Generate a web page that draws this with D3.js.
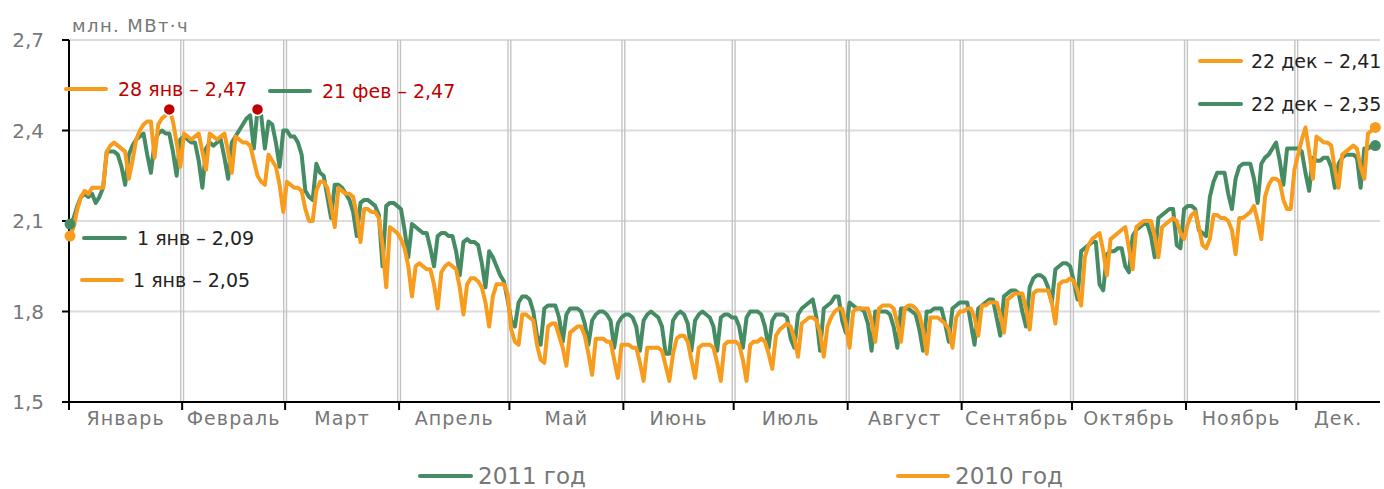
<!DOCTYPE html>
<html><head><meta charset="utf-8">
<script src="https://cdn.jsdelivr.net/npm/d3@7"></script>
<style>body{margin:0;background:#fff} svg{display:block} text{font-family:"DejaVu Sans",Verdana,sans-serif}</style>
</head><body><svg id="c" width="1384" height="489"></svg>
<script>
const monthLabels = ["Январь","Февраль","Март","Апрель","Май","Июнь","Июль","Август","Сентябрь","Октябрь","Ноябрь","Дек."];
const monthLengths = [31,28,31,30,31,30,31,31,30,31,30,22];
const yTicks = [1.5,1.8,2.1,2.4,2.7];
const seriesNames = ["2011 год","2010 год"];
const unitLabel = "млн. МВт·ч";
const peakLabels = ["28 янв – 2,47","21 фев – 2,47"];
const startLabels = ["1 янв – 2,09","1 янв – 2,05"];
const endLabels = ["22 дек – 2,41","22 дек – 2,35"];

// daily values, Jan 1 .. Dec 22
const values2011 = [
2.09,2.11,2.15,2.18,2.19,2.18,2.19, 2.16,2.18,2.21,2.33,2.33,2.33,2.32,
2.28,2.22,2.32,2.35,2.37,2.38,2.39, 2.32,2.26,2.36,2.39,2.40,2.39,2.39,
2.33,2.25,2.37,2.38,2.37,2.36,2.36, 2.30,2.21,2.34,2.36,2.35,2.36,2.37,
2.31,2.24,2.36,2.38,2.40,2.42,2.44, 2.45,2.34,2.47,2.45,2.34,2.43,2.42,
2.36,2.28,2.40,2.40,2.38,2.38,2.36, 2.32,2.20,2.18,2.17,2.29,2.26,2.25,
2.18,2.11,2.22,2.22,2.21,2.19,2.17, 2.13,2.05,2.16,2.17,2.17,2.16,2.15,
2.12,1.95,2.15,2.16,2.16,2.15,2.14, 2.07,1.98,2.09,2.08,2.07,2.06,2.06,
2.01,1.95,2.05,2.06,2.06,2.05,2.05, 2.00,1.92,2.03,2.04,2.03,2.03,2.02,
1.96,1.88,2.00,1.98,1.95,1.92,1.90, 1.84,1.77,1.75,1.83,1.85,1.85,1.84,
1.80,1.72,1.69,1.81,1.82,1.82,1.82, 1.78,1.70,1.79,1.81,1.81,1.81,1.80,
1.76,1.69,1.77,1.79,1.80,1.80,1.79, 1.77,1.68,1.76,1.78,1.79,1.79,1.78,
1.75,1.67,1.77,1.79,1.80,1.79,1.78, 1.75,1.66,1.66,1.77,1.79,1.80,1.79,
1.76,1.67,1.77,1.79,1.80,1.79,1.78, 1.75,1.67,1.78,1.79,1.79,1.78,1.78,
1.75,1.68,1.78,1.80,1.80,1.80,1.79, 1.75,1.68,1.77,1.79,1.79,1.79,1.78,
1.71,1.68,1.79,1.81,1.82,1.83,1.84, 1.78,1.67,1.81,1.82,1.83,1.85,1.85,
1.77,1.73,1.83,1.82,1.81,1.81,1.80, 1.76,1.67,1.80,1.80,1.80,1.80,1.79,
1.75,1.68,1.81,1.81,1.81,1.80,1.79, 1.74,1.67,1.80,1.80,1.81,1.81,1.81,
1.76,1.70,1.81,1.82,1.83,1.83,1.83, 1.76,1.69,1.81,1.82,1.83,1.84,1.84,
1.78,1.72,1.85,1.86,1.87,1.87,1.86, 1.80,1.75,1.88,1.91,1.92,1.92,1.91,
1.88,1.83,1.94,1.95,1.96,1.96,1.95, 1.90,1.84,2.00,2.01,2.02,2.03,2.03,
1.89,1.87,1.99,2.00,2.00,2.01,2.01, 1.95,1.93,2.05,2.07,2.08,2.09,2.09,
2.05,1.98,2.11,2.12,2.13,2.14,2.14, 2.02,2.01,2.14,2.15,2.15,2.14,2.07,
2.06,2.05,2.18,2.23,2.26,2.26,2.26, 2.19,2.14,2.24,2.28,2.29,2.29,2.29,
2.24,2.16,2.29,2.31,2.32,2.34,2.36, 2.30,2.22,2.34,2.34,2.34,2.34,2.33,
2.26,2.20,2.31,2.30,2.30,2.31,2.31, 2.28,2.21,2.29,2.31,2.32,2.32,2.32,
2.31,2.21,2.34,2.34,2.35,2.35
];
const values2010 = [
2.05,2.08,2.14,2.18,2.20,2.19,2.21, 2.21,2.21,2.21,2.33,2.35,2.36,2.35,
2.34,2.33,2.24,2.30,2.37,2.40,2.42, 2.43,2.43,2.31,2.42,2.44,2.45,2.47,
2.43,2.36,2.28,2.39,2.38,2.37,2.38, 2.39,2.33,2.27,2.39,2.38,2.37,2.38,
2.39,2.33,2.26,2.38,2.37,2.36,2.36, 2.35,2.30,2.25,2.23,2.22,2.32,2.30,
2.28,2.22,2.13,2.23,2.22,2.21,2.21, 2.20,2.14,2.10,2.10,2.20,2.23,2.23,
2.21,2.15,2.08,2.21,2.20,2.19,2.19, 2.18,2.12,2.03,2.14,2.14,2.13,2.13,
2.11,2.02,1.88,2.08,2.07,2.06,2.04, 2.01,1.95,1.85,1.95,1.96,1.95,1.94,
1.94,1.89,1.81,1.93,1.95,1.96,1.95, 1.94,1.88,1.79,1.89,1.91,1.91,1.90,
1.88,1.83,1.75,1.85,1.89,1.89,1.89, 1.86,1.74,1.70,1.69,1.79,1.79,1.78,
1.77,1.69,1.64,1.63,1.75,1.76,1.76, 1.72,1.68,1.62,1.73,1.74,1.75,1.75,
1.72,1.66,1.59,1.71,1.71,1.71,1.70, 1.70,1.64,1.58,1.69,1.69,1.69,1.68,
1.68,1.63,1.57,1.68,1.68,1.68,1.68, 1.67,1.62,1.57,1.66,1.71,1.72,1.72,
1.70,1.64,1.58,1.68,1.69,1.69,1.69, 1.68,1.63,1.57,1.69,1.70,1.70,1.70,
1.69,1.64,1.57,1.69,1.70,1.70,1.71, 1.70,1.66,1.61,1.72,1.74,1.75,1.76,
1.75,1.71,1.65,1.76,1.77,1.78,1.78, 1.77,1.73,1.65,1.75,1.78,1.80,1.81,
1.81,1.76,1.68,1.80,1.81,1.81,1.81, 1.81,1.77,1.70,1.81,1.82,1.82,1.82,
1.81,1.76,1.70,1.81,1.82,1.82,1.81, 1.79,1.74,1.66,1.78,1.78,1.78,1.77,
1.76,1.74,1.68,1.78,1.80,1.80,1.81, 1.81,1.78,1.72,1.82,1.82,1.83,1.83,
1.83,1.79,1.73,1.84,1.85,1.86,1.86, 1.86,1.81,1.74,1.86,1.87,1.87,1.87,
1.87,1.83,1.76,1.89,1.90,1.90,1.91, 1.90,1.87,1.82,1.98,2.02,2.04,2.05,
2.06,2.00,1.92,2.04,2.05,2.06,2.07, 2.08,2.01,1.94,2.08,2.09,2.10,2.10,
2.10,2.05,1.98,2.08,2.09,2.10,2.11, 2.10,2.06,2.04,2.09,2.12,2.13,2.08,
2.02,2.01,2.04,2.12,2.12,2.11,2.11, 2.10,2.07,1.99,2.11,2.11,2.12,2.13,
2.15,2.10,2.04,2.18,2.22,2.24,2.24, 2.23,2.17,2.14,2.14,2.27,2.32,2.37,
2.41,2.33,2.24,2.38,2.37,2.36,2.36, 2.35,2.27,2.21,2.32,2.33,2.34,2.35,
2.34,2.28,2.24,2.39,2.40,2.41
];

const GREEN = "#458b63", ORANGE = "#f89c1e", RED = "#c00000", GREY = "#777777";
const svg = d3.select("#c");
const x = d3.scaleLinear().domain([0, 356]).range([70, 1379]);
const y = d3.scaleLinear().domain([1.5, 2.7]).range([402, 40]);
const xLeft = 69, xRight = 1380;

// month boundaries
const monthStarts = [];
let acc = 0;
monthLengths.forEach(l => { monthStarts.push(acc); acc += l; });
const bounds = monthStarts.map(s => x(s - 0.5));
bounds[0] = xLeft;

// horizontal grid
svg.append("g").selectAll("line").data(yTicks.filter(t => t > 1.5)).join("line")
  .attr("x1", xLeft).attr("x2", xRight).attr("y1", d => y(d)).attr("y2", d => y(d))
  .attr("stroke", "#dcdcdc").attr("stroke-width", 2);

// vertical double grid lines
const vg = svg.append("g");
bounds.slice(1).forEach(b => {
  [-1.4, 1.4].forEach(o => {
    vg.append("line").attr("x1", b + o).attr("x2", b + o).attr("y1", y(2.7)).attr("y2", y(1.5))
      .attr("stroke", "#c4c4c4").attr("stroke-width", 1.4);
  });
});

// unit label
svg.append("text").attr("x", 72).attr("y", 32).attr("font-size", 18).attr("letter-spacing", 1.4)
  .attr("fill", GREY).text(unitLabel);

// y axis
const ya = svg.append("g");
ya.append("line").attr("x1", xLeft).attr("x2", xLeft).attr("y1", y(2.7)).attr("y2", y(1.5)).attr("stroke", "#000").attr("stroke-width", 2);
ya.selectAll(".t").data(yTicks).join("line").attr("x1", 62).attr("x2", xLeft)
  .attr("y1", d => y(d)).attr("y2", d => y(d)).attr("stroke", "#000").attr("stroke-width", 2);
ya.selectAll("text").data(yTicks).join("text").attr("x", 44).attr("y", d => y(d))
  .attr("text-anchor", "end").attr("dominant-baseline", "central").attr("font-size", 20).attr("fill", GREY)
  .text(d => d3.format(".1f")(d).replace(".", ","));

// x axis
const xa = svg.append("g");
xa.append("line").attr("x1", 62).attr("x2", xRight).attr("y1", y(1.5)).attr("y2", y(1.5)).attr("stroke", "#000").attr("stroke-width", 2);
xa.selectAll(".t").data(bounds).join("line").attr("x1", d => d).attr("x2", d => d)
  .attr("y1", y(1.5)).attr("y2", y(1.5) + 8).attr("stroke", "#000").attr("stroke-width", 2);
xa.selectAll("text").data(monthLabels).join("text")
  .attr("x", (d, i) => ((bounds[i] + (i < 11 ? bounds[i + 1] : xRight)) / 2))
  .attr("y", 425).attr("text-anchor", "middle").attr("font-size", 19).attr("letter-spacing", 1.1)
  .attr("fill", GREY).text(d => d);

// lines
const line = d3.line().x((d, i) => x(i)).y(d => y(d));
svg.append("path").datum(values2011).attr("d", line).attr("fill", "none").attr("stroke", GREEN)
  .attr("stroke-width", 4).attr("stroke-linejoin", "round");
svg.append("path").datum(values2010).attr("d", line).attr("fill", "none").attr("stroke", ORANGE)
  .attr("stroke-width", 4).attr("stroke-linejoin", "round");

// dots
const last = values2011.length - 1;
const dots = [
  [0, values2011[0], GREEN], [0, values2010[0], ORANGE],
  [last, values2011[last], GREEN], [last, values2010[last], ORANGE]
];
dots.forEach(([i, v, c]) => svg.append("circle").attr("cx", x(i)).attr("cy", y(v)).attr("r", 5.5).attr("fill", c));
const pk2010 = values2010.indexOf(d3.max(values2010));
const pk2011 = values2011.indexOf(d3.max(values2011));
[[pk2010, values2010[pk2010]], [pk2011, values2011[pk2011]]].forEach(([i, v]) =>
  svg.append("circle").attr("cx", x(i)).attr("cy", y(v)).attr("r", 6).attr("fill", RED).attr("stroke", "#fff").attr("stroke-width", 1.5));

// annotations with line swatches
function note(x1, x2, yy, color, tx, text, tcolor, fs) {
  svg.append("line").attr("x1", x1).attr("x2", x2).attr("y1", yy).attr("y2", yy)
    .attr("stroke", color).attr("stroke-width", 4).attr("stroke-linecap", "round");
  svg.append("text").attr("x", tx).attr("y", yy).attr("dominant-baseline", "central")
    .attr("font-size", fs).attr("fill", tcolor).text(text);
}
note(66, 106, 89, ORANGE, 118, peakLabels[0], RED, 19);
note(270, 310, 91, GREEN, 322, peakLabels[1], RED, 19);
note(84, 125, 238, GREEN, 137, startLabels[0], "#222", 19);
note(82, 122, 280, ORANGE, 133, startLabels[1], "#222", 19);
note(1200, 1241, 61, ORANGE, 1251, endLabels[0], "#222", 19);
note(1200, 1241, 104, GREEN, 1251, endLabels[1], "#222", 19);

// legend
note(420, 471, 476, GREEN, 478, seriesNames[0], GREY, 23);
note(898, 948, 476, ORANGE, 955, seriesNames[1], GREY, 23);
</script></body></html>
